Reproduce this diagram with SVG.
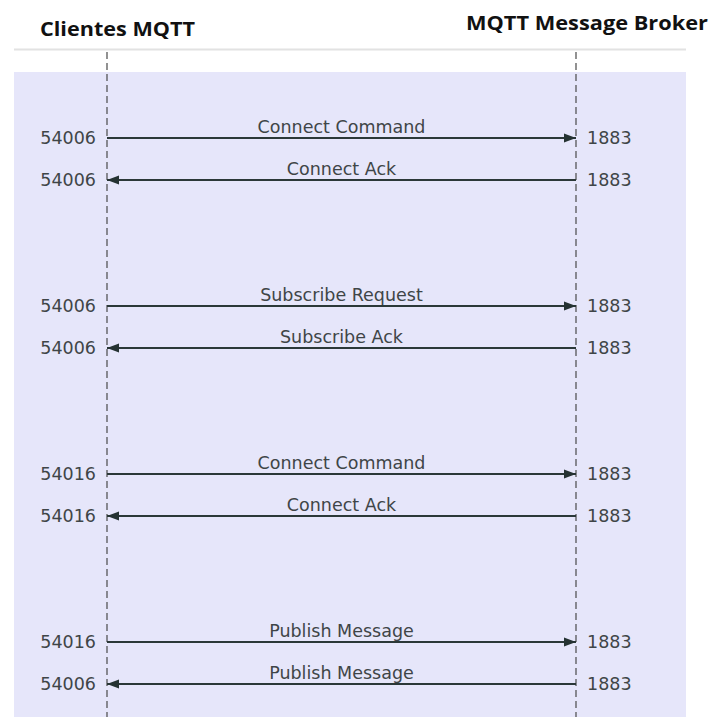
<svg xmlns="http://www.w3.org/2000/svg" width="710" height="717" viewBox="0 0 710 717">
  <defs>
    <marker id="head" markerWidth="14" markerHeight="12" refX="12" refY="6" orient="auto" markerUnits="userSpaceOnUse">
      <path d="M0,1.5 L12,6 L0,10.5 Z" fill="#253232"/>
    </marker>
    <style>
      .actor { font-family: "Open Sans", "Liberation Sans", sans-serif; font-weight: bold; font-size: 20px; fill: #111; }
      .life { stroke: #4a4a4a; stroke-width: 1.2; stroke-dasharray: 7 4; fill: none; }
      .msg { stroke: #2b3838; stroke-width: 2; fill: none; marker-end: url(#head); }
      .lbl { font-family: "DejaVu Sans", sans-serif; font-size: 17.5px; fill: #3f4547; text-anchor: middle; }
      .portL { font-family: "DejaVu Sans", sans-serif; font-size: 17.5px; fill: #3f4547; text-anchor: end; }
      .portR { font-family: "DejaVu Sans", sans-serif; font-size: 17.5px; fill: #3f4547; text-anchor: start; }
    </style>
  </defs>

  <rect width="710" height="717" fill="#ffffff"/>

  <!-- header -->
  <g id="actor-clients">
    <text class="actor" x="40" y="36" textLength="155" lengthAdjust="spacingAndGlyphs">Clientes MQTT</text>
  </g>
  <g id="actor-broker">
    <text class="actor" x="466" y="30" textLength="242" lengthAdjust="spacingAndGlyphs">MQTT Message Broker</text>
  </g>
  <line x1="14" y1="49.5" x2="686" y2="49.5" stroke="#e2e2e2" stroke-width="2"/>

  <!-- highlighted block -->
  <rect id="block" x="14" y="72" width="672" height="645" fill="#e6e6fa"/>

  <!-- lifelines -->
  <g id="lifelines">
    <line class="life" x1="107" y1="52" x2="107" y2="717"/>
    <line class="life" x1="576" y1="52" x2="576" y2="717"/>
  </g>

  <!-- messages -->
  <g id="connectors">
    <line class="msg" x1="107" y1="138" x2="576" y2="138"/>
    <line class="msg" x1="576" y1="180" x2="107" y2="180"/>
    <line class="msg" x1="107" y1="306" x2="576" y2="306"/>
    <line class="msg" x1="576" y1="348" x2="107" y2="348"/>
    <line class="msg" x1="107" y1="474" x2="576" y2="474"/>
    <line class="msg" x1="576" y1="516" x2="107" y2="516"/>
    <line class="msg" x1="107" y1="642" x2="576" y2="642"/>
    <line class="msg" x1="576" y1="684" x2="107" y2="684"/>
  </g>

  <g id="labels">
    <text class="lbl" x="341.5" y="133">Connect Command</text>
    <text class="lbl" x="341.5" y="175">Connect Ack</text>
    <text class="lbl" x="341.5" y="301">Subscribe Request</text>
    <text class="lbl" x="341.5" y="343">Subscribe Ack</text>
    <text class="lbl" x="341.5" y="469">Connect Command</text>
    <text class="lbl" x="341.5" y="511">Connect Ack</text>
    <text class="lbl" x="341.5" y="637">Publish Message</text>
    <text class="lbl" x="341.5" y="679">Publish Message</text>
  </g>

  <g id="ports-client">
    <text class="portL" x="96" y="144">54006</text>
    <text class="portL" x="96" y="186">54006</text>
    <text class="portL" x="96" y="312">54006</text>
    <text class="portL" x="96" y="354">54006</text>
    <text class="portL" x="96" y="480">54016</text>
    <text class="portL" x="96" y="522">54016</text>
    <text class="portL" x="96" y="648">54016</text>
    <text class="portL" x="96" y="690">54006</text>
  </g>

  <g id="ports-broker">
    <text class="portR" x="587" y="144">1883</text>
    <text class="portR" x="587" y="186">1883</text>
    <text class="portR" x="587" y="312">1883</text>
    <text class="portR" x="587" y="354">1883</text>
    <text class="portR" x="587" y="480">1883</text>
    <text class="portR" x="587" y="522">1883</text>
    <text class="portR" x="587" y="648">1883</text>
    <text class="portR" x="587" y="690">1883</text>
  </g>
</svg>
